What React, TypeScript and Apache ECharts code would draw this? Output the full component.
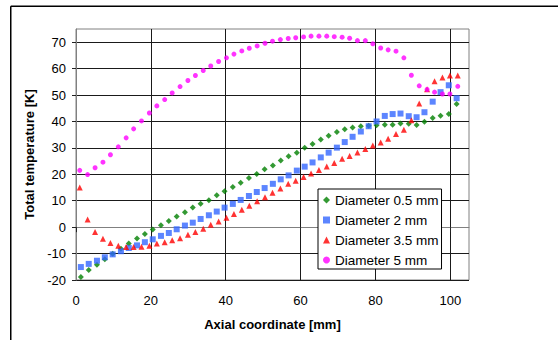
import React, { useEffect, useRef } from "react";
import * as echarts from "echarts";

// Axial coordinate [mm] for the 48-point series (0.5 mm, 2 mm)
const xShort = [1.3, 3.4, 5.6, 7.7, 9.8, 12.0, 14.1, 16.3, 18.4, 20.5, 22.7, 24.8, 26.9, 29.1, 31.2, 33.3, 35.5, 37.6, 39.7, 41.9, 44.0, 46.2, 48.3, 50.4, 52.6, 54.7, 56.8, 59.0, 61.1, 63.2, 65.4, 67.5, 69.7, 71.8, 73.9, 76.1, 78.2, 80.3, 82.5, 84.6, 86.7, 88.9, 91.0, 93.1, 95.3, 97.4, 99.6, 101.7];
// Axial coordinate [mm] for the 50-point series (3.5 mm, 5 mm)
const xLong = [1.0, 3.1, 5.1, 7.2, 9.2, 11.3, 13.4, 15.4, 17.5, 19.6, 21.6, 23.7, 25.7, 27.8, 29.9, 31.9, 34.0, 36.0, 38.1, 40.2, 42.2, 44.3, 46.3, 48.4, 50.5, 52.5, 54.6, 56.7, 58.7, 60.8, 62.8, 64.9, 67.0, 69.0, 71.1, 73.1, 75.2, 77.3, 79.3, 81.4, 83.4, 85.5, 87.6, 89.6, 91.7, 93.8, 95.8, 97.9, 99.9, 102.0];

const tempD05 = [-18.9, -16.2, -14.2, -12.1, -10.1, -8.2, -6.2, -4.3, -2.6, -0.9, 0.7, 2.3, 4.0, 5.6, 7.4, 8.9, 10.2, 12.1, 13.6, 15.2, 16.8, 18.6, 20.1, 21.9, 23.3, 25.2, 26.8, 28.2, 30.1, 31.5, 33.2, 34.6, 36.0, 37.1, 37.7, 38.2, 38.4, 38.6, 38.8, 38.8, 39.2, 39.1, 38.7, 39.9, 41.3, 42.2, 42.8, 46.6];
const tempD2 = [-15.1, -13.9, -12.7, -11.4, -10.3, -9.1, -7.9, -6.9, -5.7, -4.6, -3.3, -2.2, -0.8, 0.6, 1.7, 3.1, 4.5, 5.9, 7.4, 8.8, 10.3, 11.8, 13.3, 14.8, 16.4, 18.1, 19.6, 21.4, 22.9, 24.5, 26.4, 28.2, 30.1, 32.2, 34.2, 36.2, 38.2, 40.0, 42.1, 42.8, 43.0, 42.0, 41.6, 43.5, 47.5, 51.1, 53.7, 48.8];
const tempD35 = [15.0, 2.9, -1.8, -4.4, -6.0, -7.0, -7.5, -7.5, -7.4, -7.0, -6.2, -5.7, -5.0, -4.2, -2.9, -1.8, -0.6, 0.9, 2.1, 3.6, 5.0, 6.6, 8.1, 9.8, 11.3, 13.0, 14.6, 16.4, 17.6, 19.0, 20.3, 21.6, 23.0, 24.3, 25.9, 26.9, 28.3, 29.6, 30.9, 32.0, 33.5, 35.3, 36.9, 40.5, 46.8, 52.2, 55.2, 56.6, 57.4, 57.4];
const tempD5 = [21.5, 19.9, 22.5, 24.6, 27.4, 30.4, 33.8, 37.2, 40.2, 43.2, 45.9, 48.3, 50.8, 53.2, 55.5, 57.4, 59.3, 61.0, 62.7, 64.1, 65.5, 66.7, 67.7, 68.6, 69.6, 70.4, 71.0, 71.4, 71.7, 72.0, 72.3, 72.3, 72.3, 72.1, 71.9, 71.5, 70.6, 70.6, 69.4, 67.8, 67.1, 66.6, 64.1, 57.5, 53.5, 52.1, 51.1, 50.4, 50.4, 53.3];

const seriesNames = ["Diameter 0.5 mm", "Diameter 2 mm", "Diameter 3.5 mm", "Diameter 5 mm"];
const xTickValues = [0, 20, 40, 60, 80, 100];
const yTickValues = [-20, -10, 0, 10, 20, 30, 40, 50, 60, 70];

const FONT = "'Liberation Sans', Arial, sans-serif";

const pair = (xs: number[], ys: number[]) => ys.map((y, i) => [xs[i], y]);

export default function App() {
  const ref = useRef<HTMLDivElement>(null);

  useEffect(() => {
    if (!ref.current) return;
    const chart = echarts.init(ref.current, undefined, { renderer: "svg" });
    const option: any = {
      animation: false,
      backgroundColor: "#fff",
      textStyle: { fontFamily: FONT, color: "#000" },
      graphic: [
        { type: "line", shape: { x1: 10.75, y1: 6.25, x2: 560, y2: 6.25 }, style: { stroke: "#000", lineWidth: 1.5 } },
        { type: "line", shape: { x1: 10.75, y1: 6.25, x2: 10.75, y2: 342 }, style: { stroke: "#000", lineWidth: 1.5 } },
      ],
      grid: {
        left: 76,
        top: 29,
        right: 89,
        bottom: 60,
        show: true,
        borderColor: "#808080",
        borderWidth: 1,
        backgroundColor: "transparent",
      },
      legend: {
        orient: "vertical",
        left: 318,
        top: 189,
        data: seriesNames,
        backgroundColor: "#fff",
        borderColor: "#000",
        borderWidth: 1,
        borderRadius: 0,
        padding: [4, 3, 2, 5],
        itemWidth: 7,
        itemHeight: 7,
        itemGap: 6,
        textStyle: { fontFamily: FONT, fontSize: 13.5, color: "#000", lineHeight: 14, padding: [0, 0, 0, 0] },
      },
      xAxis: {
        type: "value",
        min: 0,
        max: 105,
        interval: 20,
        name: "Axial coordinate [mm]",
        nameLocation: "middle",
        nameGap: 38,
        nameTextStyle: { fontFamily: FONT, fontSize: 13, fontWeight: "bold", color: "#000" },
        axisLine: { show: true, lineStyle: { color: "#808080", width: 1 } },
        axisTick: { show: true, length: 5, inside: false, customValues: xTickValues, lineStyle: { color: "#222" } },
        axisLabel: { fontFamily: FONT, fontSize: 13, color: "#000", margin: 14, customValues: xTickValues },
        splitLine: { show: true, lineStyle: { color: "#1a1a1a", width: 1 } },
      },
      yAxis: {
        type: "value",
        min: -20,
        max: 75,
        interval: 10,
        name: "Total temperature [K]",
        nameLocation: "middle",
        nameGap: 38,
        nameTextStyle: { fontFamily: FONT, fontSize: 13, fontWeight: "bold", color: "#000" },
        axisLine: { show: true, lineStyle: { color: "#808080", width: 1 } },
        axisTick: { show: true, length: 4, inside: false, customValues: yTickValues, lineStyle: { color: "#222" } },
        axisLabel: { fontFamily: FONT, fontSize: 13, color: "#000", margin: 10, customValues: yTickValues },
        splitLine: { show: true, lineStyle: { color: "#1a1a1a", width: 1 } },
      },
      series: [
        {
          name: seriesNames[0],
          type: "scatter",
          symbol: "diamond",
          symbolSize: 6,
          itemStyle: { color: "#008000" },
          data: pair(xShort, tempD05),
        },
        {
          name: seriesNames[1],
          type: "scatter",
          symbol: "rect",
          symbolSize: 6,
          itemStyle: { color: "#3366FF" },
          data: pair(xShort, tempD2),
        },
        {
          name: seriesNames[2],
          type: "scatter",
          symbol: "triangle",
          symbolSize: 6,
          itemStyle: { color: "#FF0000" },
          data: pair(xLong, tempD35),
        },
        {
          name: seriesNames[3],
          type: "scatter",
          symbol: "circle",
          symbolSize: 5,
          itemStyle: { color: "#FF00FF" },
          data: pair(xLong, tempD5),
        },
      ],
    };
    chart.setOption(option);
    return () => chart.dispose();
  }, []);

  return (
    <div
      ref={ref}
      style={{ position: "fixed", left: 0, top: 0, width: 558, height: 340 }}
    />
  );
}
